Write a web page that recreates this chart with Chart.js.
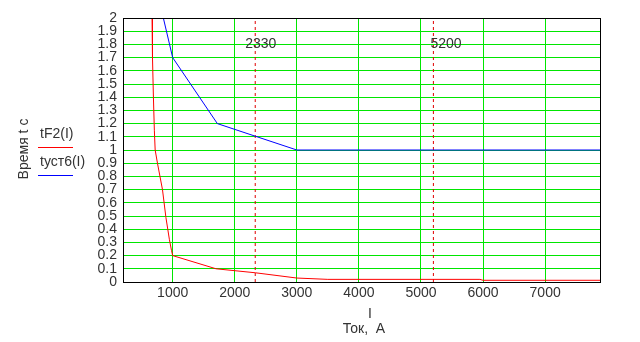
<!DOCTYPE html>
<html>
<head>
<meta charset="utf-8">
<script src="https://cdn.jsdelivr.net/npm/chart.js@4/dist/chart.umd.min.js"></script>
<style>
  html, body { margin: 0; padding: 0; background: #fff; }
  #wrap { position: relative; width: 640px; height: 342px; }
</style>
</head>
<body>
<div id="wrap"><canvas id="tokChart" width="640" height="342"></canvas></div>
<script>
// Защитная характеристика tF2(I) и уставка tуст6(I)
const redI = [668, 675, 690, 705, 718, 755, 836, 891, 948, 981, 1000, 1700, 2330, 3000, 3500, 5950, 6000, 7900];
const redT = [2.0, 1.7, 1.4, 1.15, 1.0, 0.9, 0.7, 0.49, 0.32, 0.24, 0.2, 0.1, 0.07, 0.03, 0.02, 0.02, 0.013, 0.013];
const blueI = [850, 1000, 1720, 3000, 7900];
const blueT = [2.0, 1.7, 1.2, 1.0, 1.0];
const markerI = [2330, 5200];
const xTicks = [1000, 2000, 3000, 4000, 5000, 6000, 7000];
const yTicks = [0, 0.1, 0.2, 0.3, 0.4, 0.5, 0.6, 0.7, 0.8, 0.9, 1, 1.1, 1.2, 1.3, 1.4, 1.5, 1.6, 1.7, 1.8, 1.9, 2];

const FONT = 'Liberation Sans, Arial, sans-serif';
const TXT = '#333';

const toPoints = (xs, ys) => xs.map((x, i) => ({ x: x, y: ys[i] }));

const markerSets = markerI.map(v => ({
    label: String(v),
    data: [{ x: v, y: 0 }, { x: v, y: 2 }],
    borderColor: '#e00000',
    borderWidth: 1,
    borderDash: [3, 3],
    pointRadius: 0,
    marker: true
}));

// подписи, легенда и рамка
const annotate = {
    id: 'annotate',
    afterDatasetsDraw(chart) {
        const ctx = chart.ctx;
        const a = chart.chartArea;
        const xs = chart.scales.x;
        const ys = chart.scales.y;
        ctx.save();

        ctx.strokeStyle = '#000';
        ctx.lineWidth = 1;
        ctx.strokeRect(Math.round(a.left) + 0.5, Math.round(a.top) + 0.5,
            Math.round(a.right - a.left) - 1, Math.round(a.bottom - a.top));

        ctx.fillStyle = TXT;
        ctx.font = '14px ' + FONT;
        ctx.textBaseline = 'middle';
        const shift = [-10, -3];
        markerI.forEach((v, i) => {
            ctx.textAlign = 'left';
            ctx.fillText(String(v), xs.getPixelForValue(v) + shift[i], ys.getPixelForValue(1.8));
        });

        // легенда слева
        const items = [
            { text: 'tF2(I)', color: '#ff0000', y: 134 },
            { text: 'tуст6(I)', color: '#0000ff', y: 162 }
        ];
        items.forEach(it => {
            ctx.fillStyle = TXT;
            ctx.textAlign = 'left';
            ctx.fillText(it.text, 40, it.y);
            ctx.strokeStyle = it.color;
            ctx.beginPath();
            ctx.moveTo(38, it.y + 13.5);
            ctx.lineTo(73, it.y + 13.5);
            ctx.stroke();
        });

        // подписи осей
        ctx.fillStyle = TXT;
        ctx.textAlign = 'center';
        ctx.fillText('I', 370, 314);
        ctx.fillText('Ток,  А', 364, 329);
        ctx.translate(24, 149);
        ctx.rotate(-Math.PI / 2);
        ctx.fillText('Время t c', 0, 0);
        ctx.restore();
    }
};

new Chart(document.getElementById('tokChart'), {
    type: 'line',
    data: {
        datasets: [
            {
                label: 'tF2(I)',
                data: toPoints(redI, redT),
                borderColor: '#ff0000',
                borderWidth: 1,
                pointRadius: 0,
                tension: 0
            },
            {
                label: 'tуст6(I)',
                data: toPoints(blueI, blueT),
                borderColor: '#0000ff',
                borderWidth: 1,
                pointRadius: 0,
                tension: 0
            }
        ].concat(markerSets)
    },
    options: {
        responsive: false,
        animation: false,
        layout: { padding: { left: 0, right: 39, top: 18, bottom: 0 } },
        plugins: {
            legend: { display: false },
            tooltip: { enabled: false }
        },
        scales: {
            x: {
                type: 'linear',
                min: 200,
                max: 7900,
                afterBuildTicks: s => { s.ticks = xTicks.map(v => ({ value: v })); },
                afterFit: s => { s.height = 60; },
                border: { display: false },
                grid: { color: '#00e600', lineWidth: 1, drawTicks: false },
                ticks: {
                    color: TXT,
                    font: { family: FONT, size: 14 },
                    padding: 3,
                    maxRotation: 0,
                    autoSkip: false,
                    callback: v => String(v)
                }
            },
            y: {
                min: 0,
                max: 2,
                afterBuildTicks: s => { s.ticks = yTicks.map(v => ({ value: v })); },
                afterFit: s => { s.width = 123; },
                border: { display: false },
                grid: { color: '#00e600', lineWidth: 1, drawTicks: false },
                ticks: {
                    color: TXT,
                    font: { family: FONT, size: 14 },
                    padding: 6,
                    autoSkip: false,
                    callback: v => String(Math.round(v * 10) / 10)
                }
            }
        }
    },
    plugins: [annotate]
});
</script>
</body>
</html>
